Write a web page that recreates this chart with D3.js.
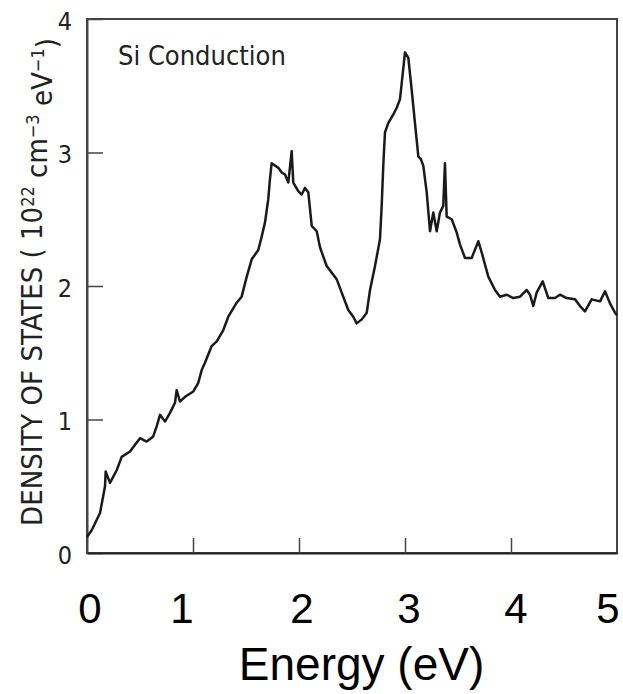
<!DOCTYPE html>
<html>
<head>
<meta charset="utf-8">
<script src="https://cdn.jsdelivr.net/npm/d3@7"></script>
<style>
  body { margin: 0; background: #fff; }
  .scan { font-family: "Liberation Sans Narrow", "DejaVu Sans Condensed", sans-serif; fill: #222; }
  .big { font-family: "Liberation Sans", Arial, sans-serif; fill: #000; }
</style>
</head>
<body>
<div id="chart"></div>
<script>
// energy (eV) and density of states (10^22 cm^-3 eV^-1)
var energy = [0, 0.044, 0.123, 0.170, 0.176, 0.217, 0.280, 0.327, 0.406, 0.453, 0.500, 0.563, 0.623, 0.658, 0.689, 0.736, 0.783, 0.830, 0.846, 0.877, 0.925,
  1.003, 1.050, 1.082, 1.113, 1.176, 1.224, 1.286, 1.333, 1.412, 1.459, 1.507, 1.554, 1.616, 1.648, 1.679, 1.710, 1.726, 1.742, 1.805, 1.837, 1.868, 1.899, 1.931, 1.946, 1.993,
  2.025, 2.057, 2.088, 2.120, 2.167, 2.198, 2.261, 2.356, 2.403, 2.465, 2.512, 2.544, 2.592, 2.639, 2.670, 2.717, 2.764, 2.780, 2.795, 2.811, 2.842, 2.890, 2.922, 2.953, 2.969,
  3.000, 3.031, 3.063, 3.094, 3.126, 3.150, 3.173, 3.205, 3.236, 3.267, 3.299, 3.330, 3.361, 3.377, 3.393, 3.441, 3.488, 3.519, 3.566, 3.629, 3.692, 3.724, 3.786, 3.849, 3.896, 3.959,
  4.022, 4.085, 4.148, 4.179, 4.210, 4.242, 4.299, 4.352, 4.415, 4.462, 4.525, 4.604, 4.651, 4.698, 4.761, 4.840, 4.887, 4.934, 4.981, 5.0];
var dos = [0.12, 0.17, 0.30, 0.50, 0.61, 0.525, 0.62, 0.72, 0.76, 0.81, 0.86, 0.835, 0.87, 0.95, 1.035, 0.985, 1.05, 1.125, 1.22, 1.135, 1.17,
  1.21, 1.275, 1.37, 1.425, 1.55, 1.585, 1.67, 1.77, 1.875, 1.92, 2.07, 2.20, 2.27, 2.37, 2.475, 2.65, 2.80, 2.92, 2.885, 2.85, 2.835, 2.775, 3.01, 2.775, 2.71,
  2.685, 2.735, 2.70, 2.45, 2.41, 2.29, 2.15, 2.05, 1.95, 1.82, 1.77, 1.72, 1.75, 1.80, 1.97, 2.15, 2.35, 2.60, 2.90, 3.15, 3.22, 3.285, 3.335, 3.40, 3.52,
  3.75, 3.71, 3.47, 3.22, 2.97, 2.95, 2.90, 2.70, 2.41, 2.55, 2.41, 2.55, 2.60, 2.92, 2.52, 2.50, 2.40, 2.31, 2.21, 2.21, 2.335, 2.25, 2.07, 1.97, 1.92, 1.935,
  1.91, 1.92, 1.97, 1.935, 1.85, 1.95, 2.035, 1.91, 1.91, 1.935, 1.91, 1.90, 1.85, 1.81, 1.90, 1.885, 1.96, 1.87, 1.80, 1.78];

var yTicks = [0, 1, 2, 3, 4];
var xTicks = [0, 1, 2, 3, 4, 5];
var xLabel = "Energy (eV)";
var panelLabel = "Si Conduction";

var data = energy.map(function(e, i) { return {e: e, d: dos[i]}; });

var W = 623, H = 694;
var margin = {top: 19, right: 6, bottom: 141, left: 87},
    width = W - margin.left - margin.right,
    height = H - margin.top - margin.bottom;

var svg = d3.select("#chart")
  .append("svg")
    .attr("width", W)
    .attr("height", H)
  .append("g")
    .attr("transform", "translate(" + margin.left + "," + margin.top + ")");

var x = d3.scaleLinear().domain([0, 5]).range([0, width]);
var y = d3.scaleLinear().domain([0, 4]).range([height, 0]);

// frame
svg.append("rect")
  .attr("width", width)
  .attr("height", height)
  .attr("fill", "none")
  .attr("stroke", "#444")
  .attr("stroke-width", 2);

// left axis, ticks pointing in
var yAxis = svg.append("g")
  .call(d3.axisLeft(y).tickValues(yTicks).tickFormat(d3.format("d"))
    .tickSizeInner(-16).tickSizeOuter(0).tickPadding(15));
yAxis.select(".domain").attr("stroke", "#444").attr("stroke-width", 2);
yAxis.selectAll(".tick line").attr("stroke", "#444").attr("stroke-width", 1.5);
yAxis.selectAll("text")
  .attr("class", "scan")
  .style("font-size", "25px")
  .attr("dy", "0.4em");

// bottom axis, ticks pointing up, no inner labels
var xAxis = svg.append("g")
  .attr("transform", "translate(0," + height + ")")
  .call(d3.axisBottom(x).tickValues([1, 2, 3, 4]).tickSizeInner(-15).tickSizeOuter(0).tickFormat(""));
xAxis.select(".domain").attr("stroke", "#222").attr("stroke-width", 2);
xAxis.selectAll(".tick line").attr("stroke", "#444").attr("stroke-width", 1.5);

// big tick labels added under the scan (slightly hand placed)
var nudge = [3, -11, 3, 4, 5, -9];
svg.append("g")
  .selectAll("text")
  .data(xTicks)
  .enter()
  .append("text")
    .attr("class", "big")
    .attr("x", function(d, i) { return x(d) + nudge[i]; })
    .attr("y", height + 70)
    .attr("text-anchor", "middle")
    .style("font-size", "42px")
    .text(function(d) { return d; });

svg.append("text")
  .attr("class", "big")
  .attr("x", x(2.59))
  .attr("y", height + 127)
  .attr("text-anchor", "middle")
  .style("font-size", "46px")
  .text(xLabel);

// y axis title
var yt = svg.append("text")
  .attr("class", "scan")
  .attr("transform", "translate(" + (-45) + "," + 263 + ") rotate(-90)")
  .attr("text-anchor", "middle")
  .style("font-size", "29px");
yt.append("tspan").text("DENSITY OF STATES ( 10");
yt.append("tspan").attr("dy", "-0.45em").style("font-size", "18px").text("22");
yt.append("tspan").attr("dy", "0.45em").text("  cm");
yt.append("tspan").attr("dy", "-0.45em").style("font-size", "18px").text("\u22123");
yt.append("tspan").attr("dy", "0.45em").text(" eV");
yt.append("tspan").attr("dy", "-0.45em").style("font-size", "18px").text("\u22121");
yt.append("tspan").attr("dy", "0.45em").text(")");

svg.append("text")
  .attr("class", "scan")
  .attr("x", 31)
  .attr("y", 46)
  .style("font-size", "27px")
  .text(panelLabel);

// the curve
svg.append("path")
  .datum(data)
  .attr("fill", "none")
  .attr("stroke", "#1a1a1a")
  .attr("stroke-width", 2.5)
  .attr("stroke-linejoin", "round")
  .attr("d", d3.line()
    .x(function(d) { return x(d.e); })
    .y(function(d) { return y(d.d); }));
</script>
</body>
</html>
